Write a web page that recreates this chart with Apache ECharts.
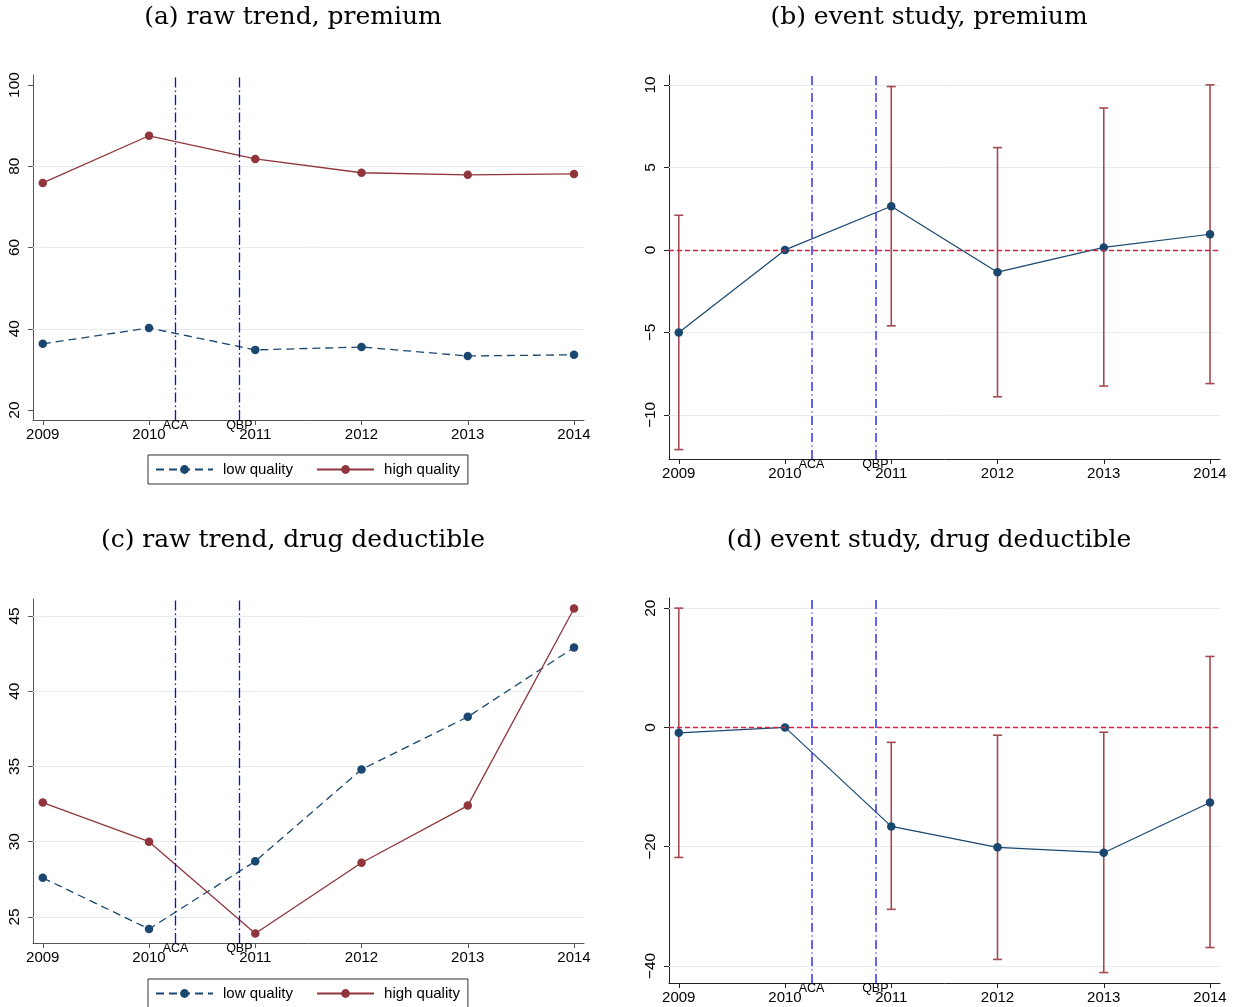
<!DOCTYPE html>
<html><head><meta charset="utf-8">
<script src="https://cdn.jsdelivr.net/npm/echarts@6/dist/echarts.min.js"></script>
<style>html,body{margin:0;padding:0;background:#fff}#c{width:1239px;height:1007px}</style>
</head><body><div id="c"></div>
<script>
// ---- data ----
const years = [2009, 2010, 2011, 2012, 2013, 2014];
const premLow  = [36.3, 40.2, 34.8, 35.5, 33.3, 33.6];
const premHigh = [75.9, 87.5, 81.8, 78.4, 77.9, 78.1];
const dedLow   = [27.6, 24.2, 28.7, 34.8, 38.3, 42.9];
const dedHigh  = [32.6, 30.0, 23.9, 28.6, 32.4, 45.5];
const premCoef = [-5.0, 0, 2.65, -1.35, 0.15, 0.95];
const premLo   = [-12.1, 0, -4.6, -8.9, -8.25, -8.1];
const premHi   = [2.1, 0, 9.9, 6.2, 8.6, 10.0];
const dedCoef  = [-0.9, 0, -16.6, -20.1, -21.0, -12.6];
const dedLo    = [-21.8, 0, -30.5, -38.9, -41.1, -36.9];
const dedHi    = [20.0, 0, -2.5, -1.3, -0.8, 11.9];
const premTicks   = [20, 40, 60, 80, 100];
const premGrid    = [40, 60, 80];
const esPremTicks = [-10, -5, 0, 5, 10];
const dedTicks    = [25, 30, 35, 40, 45];
const esDedTicks  = [-40, -20, 0, 20];
const eventNames  = ['ACA', 'QBP'];
const eventX      = [2010.25, 2010.85];
const titles = ['(a) raw trend, premium', '(b) event study, premium',
                '(c) raw trend, drug deductible', '(d) event study, drug deductible'];
const legendNames = ['low quality', 'high quality'];

// ---- styling ----
const NAVY = '#1a476f', MAROON = '#90353b', CI = '#a34a51';
const SANS = 'Liberation Sans', SERIF = 'DejaVu Serif';
const XMIN = 2008.908, XMAX = 2014.094;

const grids = [
  {left: 33, top: 75, width: 551, height: 345},
  {left: 669, top: 75, width: 551, height: 384},
  {left: 33, top: 599, width: 551, height: 344},
  {left: 669, top: 598, width: 551, height: 385}
];
const yRanges = [[17.54, 102.46], [-12.67, 10.6], [23.27, 46.13], [-42.85, 21.7]];
const yTicks = [premTicks, esPremTicks, dedTicks, esDedTicks];
const yGrid = [premGrid, esPremTicks, dedTicks, esDedTicks];
const axisCols = ['#555', '#222', '#555', '#222'];
const titlePos = [[293, 5], [929, 5], [293, 528], [929, 528]];

const fmt = v => String(v).replace('-', '\u2212');

const xAxis = grids.map((g, i) => ({
  gridIndex: i, type: 'value', min: XMIN, max: XMAX,
  axisLine: {onZero: false, lineStyle: {color: axisCols[i], width: 1}},
  axisTick: {customValues: years, length: 5, lineStyle: {color: axisCols[i]}},
  axisLabel: {customValues: years, formatter: v => String(v), fontFamily: SANS, fontSize: 15, color: '#000', margin: 7},
  splitLine: {show: false}
}));
const yAxis = grids.map((g, i) => ({
  gridIndex: i, type: 'value', min: yRanges[i][0], max: yRanges[i][1],
  axisLine: {show: true, onZero: false, lineStyle: {color: axisCols[i], width: 1}},
  axisTick: {show: true, customValues: yTicks[i], length: 5, lineStyle: {color: axisCols[i]}},
  axisLabel: {customValues: yTicks[i], formatter: fmt, rotate: 90, fontFamily: SANS, fontSize: 15.5, color: '#000', margin: 10},
  splitLine: {show: false}
}));

const series = [];
// gridlines
grids.forEach((g, i) => {
  series.push({
    type: 'line', xAxisIndex: i, yAxisIndex: i, data: [], z: 1, silent: true,
    markLine: {silent: true, z: 1, symbol: ['none', 'none'], label: {show: false},
      lineStyle: {color: '#e4edef', width: 1, type: 'solid'},
      data: yGrid[i].map(v => ({yAxis: v}))}
  });
});
// reference lines
grids.forEach((g, i) => {
  const es = (i % 2 === 1);
  const data = eventX.map((x, k) => ({
    xAxis: x, name: eventNames[k],
    lineStyle: {color: es ? '#3b3bff' : '#0a0af0', width: es ? 1.6 : 1.3, type: es ? [9, 3.5, 1, 3.5] : [10, 3, 1.5, 3]},
    label: {show: true, position: 'start', formatter: '{b}', fontFamily: SANS, fontSize: 12.5, color: '#000', distance: -1}
  }));
  if (es) data.push({yAxis: 0, label: {show: false}, lineStyle: {color: '#d8223f', width: 1.3, type: [5, 3]}});
  series.push({
    type: 'line', xAxisIndex: i, yAxisIndex: i, data: [], z: 4, silent: true,
    markLine: {silent: true, z: 4, symbol: ['none', 'none'], data: data}
  });
});
// raw trends
const pairs = (ys) => years.map((y, k) => [y, ys[k]]);
[[premLow, premHigh, 0], [dedLow, dedHigh, 2]].forEach(([lo, hi, gi]) => {
  series.push({
    name: legendNames[0], type: 'line', xAxisIndex: gi, yAxisIndex: gi, data: pairs(lo), z: 3,
    symbol: 'circle', symbolSize: 8.5, itemStyle: {color: NAVY},
    lineStyle: {color: NAVY, width: 1.3, type: [8, 5]}
  });
  series.push({
    name: legendNames[1], type: 'line', xAxisIndex: gi, yAxisIndex: gi, data: pairs(hi), z: 3,
    symbol: 'circle', symbolSize: 8.5, itemStyle: {color: MAROON},
    lineStyle: {color: MAROON, width: 1.3, type: 'solid'}
  });
});
// event studies
[[premCoef, premLo, premHi, 1], [dedCoef, dedLo, dedHi, 3]].forEach(([c, lo, hi, gi]) => {
  const ci = years.map((y, k) => [y, lo[k], hi[k]]).filter(d => d[1] !== d[2]);
  series.push({
    type: 'custom', xAxisIndex: gi, yAxisIndex: gi, data: ci, z: 2,
    encode: {x: 0, y: [1, 2]},
    renderItem: (p, api) => {
      const x = api.value(0);
      const a = api.coord([x, api.value(2)]);
      const b = api.coord([x, api.value(1)]);
      const w = 4.5;
      const st = {stroke: CI, lineWidth: 1.6};
      return {type: 'group', children: [
        {type: 'line', shape: {x1: a[0], y1: a[1], x2: b[0], y2: b[1]}, style: st},
        {type: 'line', shape: {x1: a[0] - w, y1: a[1], x2: a[0] + w, y2: a[1]}, style: st},
        {type: 'line', shape: {x1: b[0] - w, y1: b[1], x2: b[0] + w, y2: b[1]}, style: st}
      ]};
    }
  });
  series.push({
    type: 'line', xAxisIndex: gi, yAxisIndex: gi, data: pairs(c), z: 3,
    symbol: 'circle', symbolSize: 8.5, itemStyle: {color: NAVY},
    lineStyle: {color: NAVY, width: 1.2}
  });
});

const legendBase = {
  data: legendNames, orient: 'horizontal', selectedMode: false,
  borderColor: '#333', borderWidth: 1, padding: [7, 8, 7, 7], itemGap: 23,
  itemWidth: 57, itemHeight: 11,
  textStyle: {fontFamily: SANS, fontSize: 15, color: '#000', padding: [0, 0, 0, 5]}
};

const option = {
  animation: false,
  backgroundColor: '#fff',
  title: titles.map((t, i) => ({
    text: t, left: titlePos[i][0], top: titlePos[i][1], textAlign: 'center', padding: 0,
    textStyle: {fontFamily: SERIF, fontSize: 25, fontWeight: 'normal', color: '#000'}
  })),
  legend: [Object.assign({left: 148, top: 455}, legendBase), Object.assign({left: 148, top: 979}, legendBase)],
  grid: grids,
  xAxis: xAxis,
  yAxis: yAxis,
  series: series
};
const chart = echarts.init(document.getElementById('c'));
chart.setOption(option);
</script></body></html>
